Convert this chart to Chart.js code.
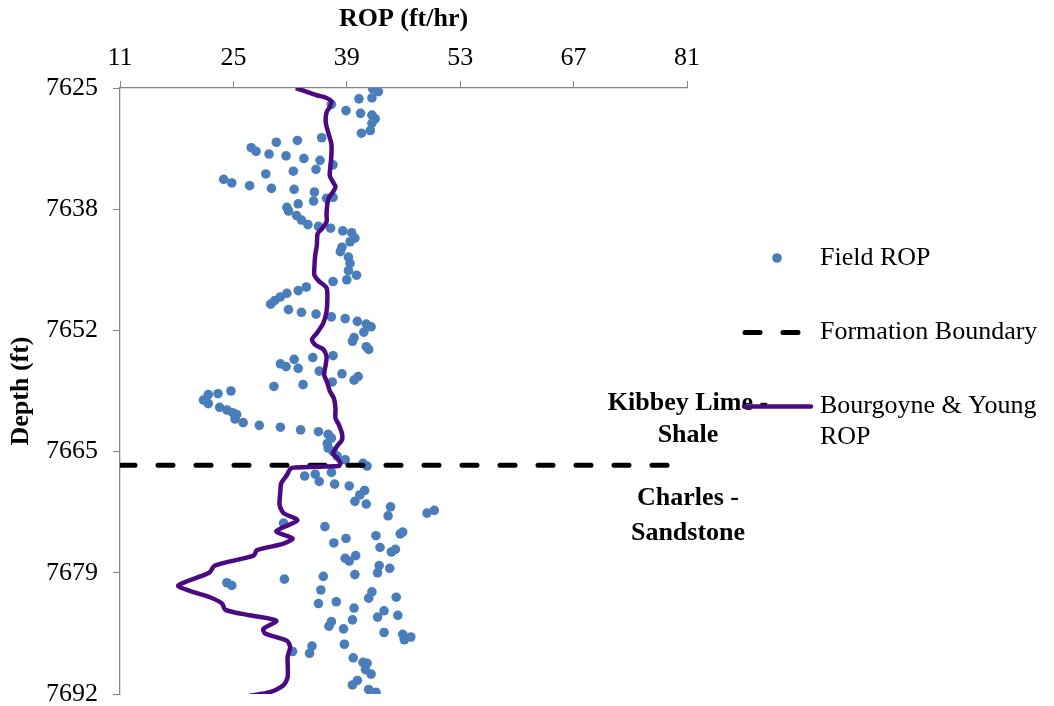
<!DOCTYPE html>
<html>
<head>
<meta charset="utf-8">
<script src="https://cdn.jsdelivr.net/npm/chart.js@4.4.1/dist/chart.umd.min.js"></script>
<style>
  html, body { margin: 0; padding: 0; background: #fff; }
  #wrap { width: 1054px; height: 706px; }
</style>
</head>
<body>
<div id="wrap"><canvas id="ropChart" width="1054" height="706"></canvas></div>
<script>
// field measurements (ROP ft/hr vs depth ft)
const fieldRop = [
  42.2, 42.9, 42.1, 40.5, 37.1, 38.9, 40.7, 42.1, 42.5, 42.1, 41.9, 40.8, 35.9, 32.9, 30.3, 27.2,
  27.8, 29.4, 31.5, 33.7, 35.7, 37.3, 35.2, 32.4, 29.0, 23.8, 24.8, 27.0, 29.7, 32.5, 35.0, 37.3,
  36.5, 34.9, 33.0, 31.6, 31.8, 32.8, 33.4, 34.2, 35.5, 37.0, 38.5, 39.6, 40.0, 39.4, 38.4, 38.2,
  39.2, 39.4, 39.2, 40.2, 39.0, 37.3, 34.0, 33.0, 31.6, 30.8, 30.1, 29.6, 31.8, 33.4, 35.2, 37.1,
  38.8, 40.3, 41.4, 42.0, 41.1, 39.9, 39.7, 41.4, 41.7, 37.3, 34.8, 32.5, 30.8, 31.5, 33.0, 35.6,
  38.4, 40.4, 39.9, 37.2, 33.6, 30.0, 24.7, 23.1, 21.9, 21.3, 21.9, 23.3, 24.2, 24.9, 25.4, 25.2,
  26.2, 28.2, 30.8, 33.3, 35.5, 36.7, 37.1, 36.6, 36.7, 37.3, 37.8, 38.8, 41.0, 41.5, 37.1, 35.1,
  33.8, 35.6, 37.5, 39.3, 41.2, 40.6, 40.0, 41.4, 44.4, 44.1, 48.9, 49.8, 31.2, 36.3, 45.9, 45.6,
  42.6, 38.9, 37.4, 43.1, 45.0, 44.5, 40.1, 38.8, 39.3, 43.0, 44.3, 42.8, 40.0, 36.1, 31.3, 24.2,
  24.8, 35.8, 42.1, 41.7, 45.1, 37.7, 35.5, 39.9, 43.6, 45.3, 42.8, 39.7, 37.1, 36.8, 38.6, 43.6,
  45.9, 46.9, 46.1, 32.3, 34.7, 34.4, 38.7, 39.8, 41.0, 41.5, 41.3, 42.0, 40.3, 39.7, 41.7, 42.6
];
const fieldDepth = [
  7625.1, 7625.4, 7626.1, 7626.2, 7626.8, 7627.5, 7627.8, 7628.0, 7628.4, 7628.9, 7629.7, 7630.0, 7630.5, 7630.8, 7631.0, 7631.6,
  7632.0, 7632.3, 7632.5, 7632.8, 7633.0, 7633.5, 7634.0, 7634.2, 7634.5, 7635.1, 7635.5, 7635.8, 7636.1, 7636.2, 7636.5, 7637.1,
  7637.2, 7637.5, 7637.8, 7638.2, 7638.6, 7639.1, 7639.6, 7640.1, 7640.3, 7640.5, 7640.8, 7641.0, 7641.6, 7642.0, 7642.6, 7643.1,
  7643.7, 7644.4, 7645.2, 7645.7, 7646.2, 7646.4, 7647.0, 7647.4, 7647.7, 7648.1, 7648.5, 7648.9, 7649.5, 7649.8, 7650.0, 7650.3,
  7650.5, 7650.8, 7651.1, 7651.4, 7652.0, 7652.6, 7653.0, 7653.6, 7653.9, 7654.6, 7654.8, 7655.0, 7655.5, 7655.8, 7656.0, 7656.3,
  7656.6, 7656.9, 7657.3, 7657.5, 7657.8, 7658.0, 7658.5, 7658.8, 7658.9, 7659.5, 7659.9, 7660.3, 7660.6, 7660.9, 7661.1, 7661.6,
  7662.0, 7662.3, 7662.5, 7662.8, 7663.0, 7663.3, 7663.7, 7664.3, 7664.8, 7665.2, 7665.7, 7666.1, 7666.5, 7666.8, 7667.5, 7667.7,
  7667.9, 7668.5, 7668.8, 7669.0, 7669.5, 7670.0, 7670.7, 7671.0, 7671.3, 7672.3, 7672.0, 7671.7, 7673.1, 7673.5, 7674.1, 7674.3,
  7674.5, 7674.8, 7675.3, 7675.8, 7676.0, 7676.3, 7676.7, 7677.0, 7677.3, 7677.8, 7678.1, 7678.6, 7678.8, 7679.0, 7679.3, 7679.7,
  7680.0, 7680.5, 7680.7, 7681.4, 7681.3, 7681.8, 7682.0, 7682.5, 7682.8, 7683.3, 7683.5, 7683.8, 7684.0, 7684.5, 7684.8, 7685.2,
  7685.4, 7685.7, 7686.0, 7687.3, 7686.7, 7687.5, 7686.5, 7688.0, 7688.5, 7688.6, 7689.3, 7689.8, 7690.5, 7691.0, 7691.5, 7691.8
];

// Bourgoyne & Young model
const byRop = [
  32.7, 34.0, 35.3, 36.5, 37.1, 36.9, 36.5, 36.4, 36.7, 37.1, 37.1, 37.0, 36.9, 37.3, 37.6, 37.3,
  36.8, 36.6, 36.5, 36.5, 35.9, 35.4, 35.3, 35.1, 35.0, 35.0, 35.5, 36.5, 36.6, 36.5, 36.1, 35.3,
  34.7, 35.1, 36.1, 36.5, 36.4, 36.2, 36.6, 36.9, 37.4, 37.6, 37.6, 38.0, 38.4, 38.4, 37.8, 37.3,
  37.8, 38.2, 38.0, 32.2, 31.6, 30.9, 30.8, 30.7, 31.2, 32.9, 30.3, 32.3, 31.1, 27.9, 27.5, 22.7,
  22.0, 18.2, 19.6, 22.1, 23.6, 24.0, 27.0, 30.3, 28.7, 28.9, 31.6, 32.0, 31.7, 31.7, 31.2, 29.5, 27.0
];
const byDepth = [
  7625.0, 7625.4, 7625.8, 7626.1, 7626.5, 7627.1, 7627.7, 7628.8, 7629.9, 7631.2, 7632.4, 7633.5, 7634.7, 7635.4, 7635.9, 7636.5,
  7637.1, 7637.8, 7638.9, 7639.8, 7640.6, 7641.1, 7642.4, 7643.5, 7644.8, 7645.7, 7646.3, 7647.1, 7648.2, 7649.7, 7651.0, 7652.1,
  7652.8, 7653.4, 7653.9, 7654.7, 7655.6, 7656.7, 7657.6, 7658.5, 7659.3, 7660.4, 7661.5, 7662.2, 7663.2, 7663.9, 7664.6, 7665.4,
  7665.9, 7666.5, 7666.8, 7667.0, 7667.8, 7668.7, 7669.6, 7671.1, 7672.0, 7672.8, 7674.0, 7674.8, 7675.4, 7676.1, 7676.7, 7677.8,
  7678.6, 7680.0, 7680.6, 7681.3, 7682.0, 7682.7, 7683.3, 7683.9, 7684.8, 7685.3, 7686.1, 7686.8, 7687.9, 7690.1, 7691.0, 7691.8, 7692.2
];

// formation boundary
const boundaryDepth = 7666.7;
const boundaryRop = [11, 79];

const ropTicks = [11, 25, 39, 53, 67, 81];
const depthTicks = [7625, 7638.4, 7651.8, 7665.2, 7678.6, 7692];

const upperFormation = ["Kibbey Lime -", "Shale"];
const lowerFormation = ["Charles -", "Sandstone"];

const serif = '"Liberation Serif", "Times New Roman", serif';
const axisGray = "#868686";

const overlay = {
  id: "overlay",
  afterDraw(chart) {
    const ctx = chart.ctx;
    const yb = chart.scales.y.getPixelForValue(boundaryDepth);
    const cx = chart.chartArea.right + 1;

    ctx.save();
    ctx.fillStyle = "#000";
    ctx.textAlign = "center";
    ctx.textBaseline = "middle";
    ctx.font = "bold 26px " + serif;
    ctx.fillText(upperFormation[0], cx, yb - 62);
    ctx.fillText(upperFormation[1], cx, yb - 30);
    ctx.fillText(lowerFormation[0], cx, yb + 33);
    ctx.fillText(lowerFormation[1], cx, yb + 68);

    // legend
    const ds = chart.data.datasets;
    ctx.textAlign = "left";
    ctx.font = "26px " + serif;

    const pts = ds[2];
    ctx.fillStyle = pts.pointBackgroundColor;
    ctx.beginPath();
    ctx.arc(777, 258, 4.8, 0, Math.PI * 2);
    ctx.fill();
    ctx.fillStyle = "#000";
    ctx.fillText(pts.label, 820, 258);

    const bd = ds[1];
    ctx.strokeStyle = bd.borderColor;
    ctx.lineWidth = bd.borderWidth;
    ctx.lineCap = "round";
    ctx.setLineDash(bd.borderDash);
    ctx.beginPath();
    ctx.moveTo(745, 332.5);
    ctx.lineTo(801, 332.5);
    ctx.stroke();
    ctx.setLineDash([]);
    ctx.fillText(bd.label, 820, 332);

    const ln = ds[0];
    ctx.strokeStyle = ln.borderColor;
    ctx.lineWidth = ln.borderWidth;
    ctx.beginPath();
    ctx.moveTo(744, 406.5);
    ctx.lineTo(811, 406.5);
    ctx.stroke();
    ctx.fillText("Bourgoyne & Young", 820, 406);
    ctx.fillText("ROP", 820, 437);
    ctx.restore();
  }
};

new Chart(document.getElementById("ropChart"), {
  type: "scatter",
  data: {
    datasets: [
      {
        label: "Bourgoyne & Young ROP",
        data: byRop.map((v, i) => ({ x: v, y: byDepth[i] })),
        showLine: true,
        borderColor: "#4B0A82",
        borderWidth: 4.5,
        tension: 0.25,
        pointRadius: 0,
        order: 0
      },
      {
        label: "Formation Boundary",
        data: boundaryRop.map(v => ({ x: v, y: boundaryDepth })),
        showLine: true,
        borderColor: "#000",
        borderWidth: 5,
        borderDash: [15, 23],
        borderCapStyle: "round",
        pointRadius: 0,
        order: 1
      },
      {
        label: "Field ROP",
        data: fieldRop.map((v, i) => ({ x: v, y: fieldDepth[i] })),
        pointBackgroundColor: "#4A7EBB",
        pointBorderWidth: 0,
        pointRadius: 4.8,
        order: 2
      }
    ]
  },
  options: {
    responsive: false,
    animation: false,
    devicePixelRatio: 1,
    layout: { padding: { left: 0, top: 0, right: 367, bottom: 12 } },
    plugins: {
      legend: { display: false },
      tooltip: { enabled: false }
    },
    scales: {
      x: {
        type: "linear",
        position: "top",
        min: 11,
        max: 81,
        afterBuildTicks: s => { s.ticks = ropTicks.map(v => ({ value: v })); },
        afterFit: s => { s.height = 88; s.paddingLeft = 0; s.paddingRight = 0; },
        grid: { display: true, drawOnChartArea: false, drawTicks: true, tickLength: 7, color: axisGray },
        border: { display: true, color: axisGray, width: 1.3 },
        ticks: { color: "#000", padding: 7, maxRotation: 0, font: { family: serif, size: 26 } },
        title: {
          display: true,
          text: "ROP (ft/hr)",
          color: "#000",
          padding: { top: 4, bottom: 0 },
          font: { family: serif, size: 26, weight: "bold" }
        }
      },
      y: {
        type: "linear",
        reverse: true,
        min: 7625,
        max: 7692,
        afterBuildTicks: s => { s.ticks = depthTicks.map(v => ({ value: v })); },
        afterFit: s => { s.width = 120; s.paddingTop = 0; s.paddingBottom = 0; },
        grid: { display: true, drawOnChartArea: false, drawTicks: true, tickLength: 7, color: axisGray },
        border: { display: true, color: axisGray, width: 1.3 },
        ticks: {
          color: "#000",
          padding: 15,
          font: { family: serif, size: 26 },
          callback: v => Math.round(v)
        },
        title: {
          display: true,
          text: "Depth (ft)",
          color: "#000",
          padding: { top: 6, bottom: 0 },
          font: { family: serif, size: 26, weight: "bold" }
        }
      }
    }
  },
  plugins: [overlay]
});
</script>
</body>
</html>
